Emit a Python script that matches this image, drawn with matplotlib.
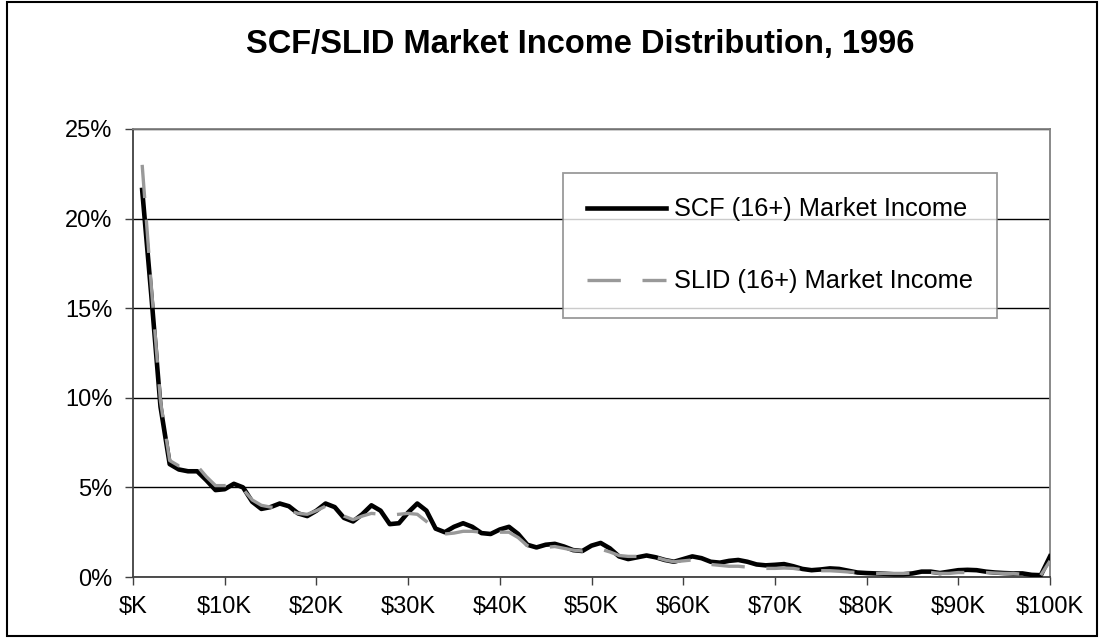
import matplotlib
matplotlib.use("Agg")
import matplotlib.pyplot as plt
from matplotlib.patches import Rectangle
from matplotlib.ticker import FuncFormatter, MultipleLocator

# ---- data (income in $K, share in %) ----
income_k = list(range(1, 101))
scf = [21.6, 15.7, 9.5, 6.3, 6.0, 5.9, 5.9, 5.4, 4.85, 4.9,
       5.2, 5.0, 4.2, 3.8, 3.9, 4.1, 3.95, 3.55, 3.4, 3.7,
       4.1, 3.9, 3.3, 3.1, 3.5, 4.0, 3.7, 2.95, 3.0, 3.6,
       4.1, 3.7, 2.7, 2.5, 2.8, 3.0, 2.8, 2.45, 2.4, 2.65,
       2.8, 2.4, 1.8, 1.65, 1.8, 1.85, 1.7, 1.5, 1.45, 1.75,
       1.9, 1.6, 1.15, 1.0, 1.1, 1.2, 1.1, 0.95, 0.85, 1.0,
       1.15, 1.05, 0.85, 0.8, 0.9, 0.95, 0.85, 0.7, 0.65, 0.68,
       0.72, 0.6, 0.45, 0.38, 0.42, 0.48, 0.45, 0.35, 0.25, 0.22,
       0.2, 0.18, 0.15, 0.15, 0.2, 0.3, 0.3, 0.22, 0.3, 0.38,
       0.4, 0.38, 0.3, 0.25, 0.22, 0.2, 0.2, 0.12, 0.1, 1.15]
slid = [23.0, 16.2, 9.8, 6.5, 6.2, 6.2, 6.2, 5.6, 5.1, 5.1,
        5.2, 4.9, 4.3, 4.0, 3.9, 3.85, 3.7, 3.55, 3.5, 3.7,
        3.95, 3.8, 3.4, 3.2, 3.4, 3.55, 3.5, 3.45, 3.5, 3.55,
        3.5, 3.1, 2.6, 2.4, 2.45, 2.55, 2.55, 2.5, 2.45, 2.5,
        2.5, 2.2, 1.75, 1.6, 1.65, 1.7, 1.6, 1.5, 1.45, 1.55,
        1.55, 1.4, 1.2, 1.15, 1.15, 1.2, 1.1, 0.95, 0.85, 0.9,
        0.95, 0.9, 0.7, 0.65, 0.6, 0.6, 0.55, 0.5, 0.48, 0.48,
        0.5, 0.48, 0.4, 0.35, 0.35, 0.35, 0.32, 0.28, 0.25, 0.22,
        0.2, 0.2, 0.2, 0.2, 0.22, 0.25, 0.25, 0.2, 0.2, 0.25,
        0.25, 0.25, 0.25, 0.22, 0.2, 0.2, 0.15, 0.08, 0.1, 0.9]
series_labels = ["SCF (16+) Market Income", "SLID (16+) Market Income"]
title = "SCF/SLID Market Income Distribution, 1996"

plt.rcParams['font.family'] = ['Liberation Sans', 'DejaVu Sans']

W, H = 1100, 638
fig = plt.figure(figsize=(W / 100, H / 100), dpi=100)
fig.patch.set_facecolor('white')

# outer chart border
fig.patches.append(Rectangle((7 / W, 2 / H), 1090 / W, 634 / H, transform=fig.transFigure,
                             fill=False, edgecolor='black', linewidth=1.5))

L, R, T, B = 133, 1050, 129, 577
ax = fig.add_axes([L / W, 1 - B / H, (R - L) / W, (B - T) / H])

ax.plot(income_k, scf, color='black', linewidth=3.3, solid_joinstyle='round',
        label=series_labels[0], zorder=3)
ax.plot(income_k, slid, color='#999999', linewidth=2.4, dashes=(10, 6.5),
        label=series_labels[1], zorder=4)

ax.set_xlim(0, 100)
ax.set_ylim(0, 25)
ax.xaxis.set_major_locator(MultipleLocator(10))
ax.yaxis.set_major_locator(MultipleLocator(5))
ax.xaxis.set_major_formatter(FuncFormatter(lambda v, p: "$K" if v == 0 else f"${int(v)}K"))
ax.yaxis.set_major_formatter(FuncFormatter(lambda v, p: f"{int(v)}%"))

ax.grid(axis='y', color='black', linewidth=1.0, zorder=1)
ax.set_axisbelow(True)
for s in ['top', 'right']:
    ax.spines[s].set_color('#808080')
    ax.spines[s].set_linewidth(1.3)
for s in ['left', 'bottom']:
    ax.spines[s].set_color('#404040')
    ax.spines[s].set_linewidth(1.3)

ax.tick_params(axis='both', direction='out', length=6, width=1.0, color='#404040',
               labelsize=17, labelcolor='black')
ax.tick_params(axis='x', pad=8)
ax.tick_params(axis='y', pad=9)

fig.text(580 / W, 1 - 45 / H, title, ha='center', va='center',
         fontsize=23.5, fontweight='bold')

leg = ax.legend(loc='upper left', bbox_to_anchor=(563 / W, 1 - 173 / H),
                bbox_transform=fig.transFigure, fontsize=18.3, frameon=True,
                fancybox=False, edgecolor='#808080', borderpad=0.96,
                handlelength=3.1, handletextpad=0.3, labelspacing=1.89,
                borderaxespad=0)
leg.get_frame().set_linewidth(1.3)

fig.savefig("out.png", dpi=100, facecolor='white')
